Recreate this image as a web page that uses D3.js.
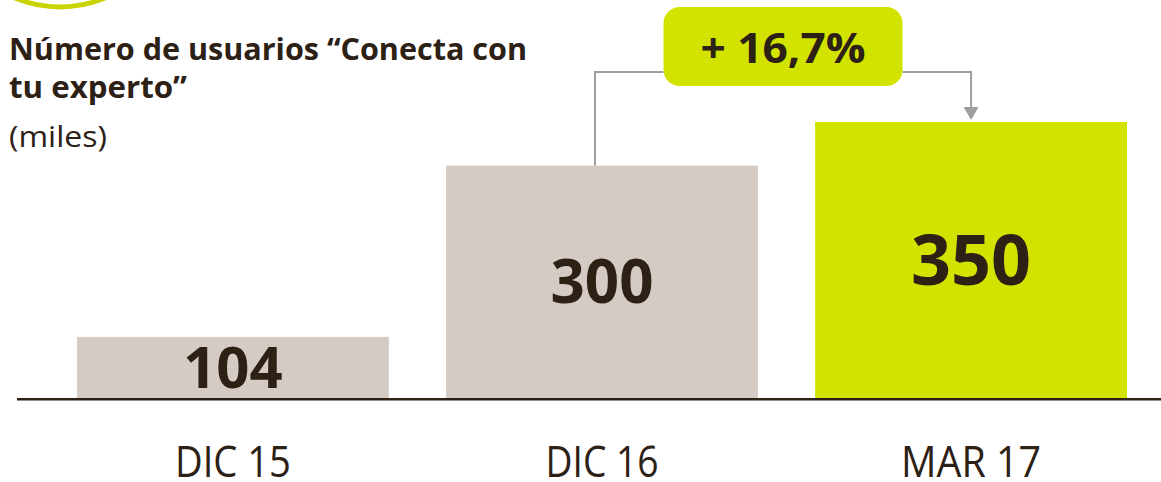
<!DOCTYPE html>
<html>
<head>
<meta charset="utf-8">
<script src="https://cdn.jsdelivr.net/npm/d3@7"></script>
<style>
  html, body { margin: 0; padding: 0; background: #fff; }
  svg { display: block; font-family: "Open Sans", sans-serif; }
</style>
</head>
<body>
<div id="chart"></div>
<script>
// data
var categories = ["DIC 15", "DIC 16", "MAR 17"];
var values = [104, 300, 350];
var growthLabel = "+ 16,7%";
var titleLines = ["Número de usuarios \u201CConecta con", "tu experto\u201D"];
var unitLabel = "(miles)";

var width = 1161,
    height = 482;

var dark = "#2d2015",
    grey = "#d5cbc5",
    green = "#d2e300",
    arrowGrey = "#9e9e9e";

var baseY = 398;

var x = d3.scaleBand()
  .domain(categories)
  .range([77, 1127])
  .paddingInner(0.155);

// the bars are not drawn from zero in the original
var y = d3.scaleLinear()
  .domain([34, 350])
  .range([baseY, 122]);

var svg = d3.select("#chart")
  .append("svg")
  .attr("width", width)
  .attr("height", height);

// green ring peeking in at the top left
svg.append("circle")
  .attr("cx", 60)
  .attr("cy", -110)
  .attr("r", 117)
  .attr("fill", "none")
  .attr("stroke", "#c9d400")
  .attr("stroke-width", 5);

// title
svg.selectAll(".title")
  .data(titleLines)
  .enter()
  .append("text")
  .attr("class", "title")
  .attr("x", 9)
  .attr("y", function(d, i) { return 60 + i * 37.5; })
  .attr("font-size", 31)
  .attr("font-weight", 700)
  .attr("fill", dark)
  .attr("textLength", function(d, i) { return [518, 178][i]; })
  .attr("lengthAdjust", "spacingAndGlyphs")
  .text(function(d) { return d; });

svg.append("text")
  .attr("x", 9)
  .attr("y", 147)
  .attr("font-size", 29)
  .attr("fill", dark)
  .attr("textLength", 98)
  .attr("lengthAdjust", "spacingAndGlyphs")
  .text(unitLabel);

// bars
svg.selectAll(".bar")
  .data(values)
  .enter()
  .append("rect")
  .attr("class", "bar")
  .attr("x", function(d, i) { return x(categories[i]); })
  .attr("y", function(d) { return y(d); })
  .attr("width", x.bandwidth())
  .attr("height", function(d) { return baseY - y(d); })
  .attr("fill", function(d, i) { return i == values.length - 1 ? green : grey; });

// value labels, centred in the bars
var labelSize = [58, 60, 70];
svg.selectAll(".val")
  .data(values)
  .enter()
  .append("text")
  .attr("class", "val")
  .attr("x", function(d, i) { return x(categories[i]) + x.bandwidth() / 2; })
  .attr("y", function(d, i) { return (y(d) + baseY) / 2 + labelSize[i] * 0.36; })
  .attr("text-anchor", "middle")
  .attr("font-size", function(d, i) { return labelSize[i]; })
  .attr("font-weight", 700)
  .attr("fill", dark)
  .text(function(d) { return d; });

// baseline
svg.append("line")
  .attr("x1", 17)
  .attr("x2", width)
  .attr("y1", baseY + 1.2)
  .attr("y2", baseY + 1.2)
  .attr("stroke", dark)
  .attr("stroke-width", 2.5);

// category labels
var axis = d3.axisBottom(x).tickSize(0).tickPadding(0);
var gx = svg.append("g")
  .attr("transform", "translate(0," + 477 + ")")
  .call(axis);
gx.select(".domain").remove();
gx.selectAll("text")
  .attr("y", 0)
  .attr("dy", 0)
  .attr("font-family", "Open Sans, sans-serif")
  .attr("font-size", 43)
  .attr("fill", dark)
  .attr("textLength", function(d, i) { return [116, 113, 140][i]; })
  .attr("lengthAdjust", "spacingAndGlyphs");

// growth connector
var c2 = x(categories[1]) + x.bandwidth() / 2 - 7,
    c3 = x(categories[2]) + x.bandwidth() / 2,
    mid = (c2 + c3) / 2,
    boxW = 239, boxH = 79, boxTop = 7,
    lineY = 72;

svg.append("path")
  .attr("d", "M" + c2 + "," + y(values[1]) + "V" + lineY + "H" + (mid - boxW / 2) +
             "M" + (mid + boxW / 2) + "," + lineY + "H" + c3 + "V" + (y(values[2]) - 12))
  .attr("fill", "none")
  .attr("stroke", arrowGrey)
  .attr("stroke-width", 2);

svg.append("path")
  .attr("d", "M" + (c3 - 7.5) + "," + (y(values[2]) - 15) + "L" + (c3 + 7.5) + "," + (y(values[2]) - 15) +
             "L" + c3 + "," + (y(values[2]) - 2) + "Z")
  .attr("fill", arrowGrey);

svg.append("rect")
  .attr("x", mid - boxW / 2)
  .attr("y", boxTop)
  .attr("width", boxW)
  .attr("height", boxH)
  .attr("rx", 16)
  .attr("fill", green);

svg.append("text")
  .attr("x", mid)
  .attr("y", 63)
  .attr("text-anchor", "middle")
  .attr("font-size", 42)
  .attr("font-weight", 700)
  .attr("fill", dark)
  .attr("textLength", 165)
  .attr("lengthAdjust", "spacingAndGlyphs")
  .text(growthLabel);
</script>
</body>
</html>
